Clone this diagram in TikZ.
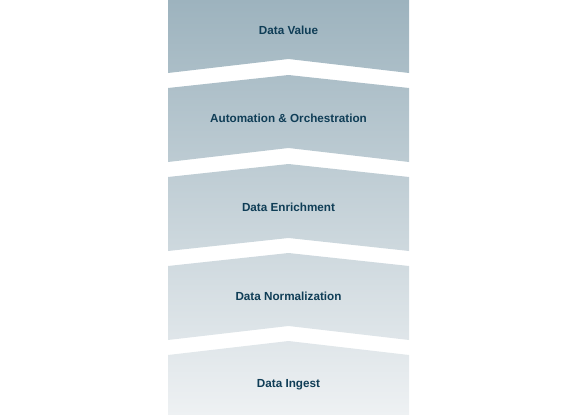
\documentclass[tikz,border=0pt]{standalone}
\usepackage{fontspec}
\setmainfont{Liberation Sans}
\definecolor{topc}{HTML}{9DB3BE}
\definecolor{botc}{HTML}{EEF1F3}
\definecolor{txt}{HTML}{0F3D56}
\begin{document}
\begin{tikzpicture}[x=1pt,y=-1pt,
  lbl/.style={text=txt,font=\bfseries\fontsize{11.7}{14}\selectfont,inner sep=0pt}]
\useasboundingbox (0,0) rectangle (576,415);
\begin{scope}
\clip (168,0) -- (409,0) -- (409,73) -- (288.5,59) -- (168,73) -- cycle
      (168,88) -- (288.5,75) -- (409,88) -- (409,162) -- (288.5,148) -- (168,162) -- cycle
      (168,177) -- (288.5,164) -- (409,177) -- (409,251) -- (288.5,238) -- (168,251) -- cycle
      (168,266) -- (288.5,253) -- (409,266) -- (409,340) -- (288.5,326) -- (168,340) -- cycle
      (168,355) -- (288.5,341) -- (409,355) -- (409,415) -- (168,415) -- cycle;
\shade[top color=topc,bottom color=botc] (160,0) rectangle (420,415);
\end{scope}
\node[lbl] (v) at (288.5,30) {Data Value};
\node[lbl] (a) at (288.5,118) {Automation \& Orchestration};
\node[lbl] (e) at (288.5,207) {Data Enrichment};
\node[lbl] (n) at (288.5,296) {Data Normalization};
\node[lbl] (i) at (288.5,385) {Data Ingest};
\end{tikzpicture}
\end{document}
